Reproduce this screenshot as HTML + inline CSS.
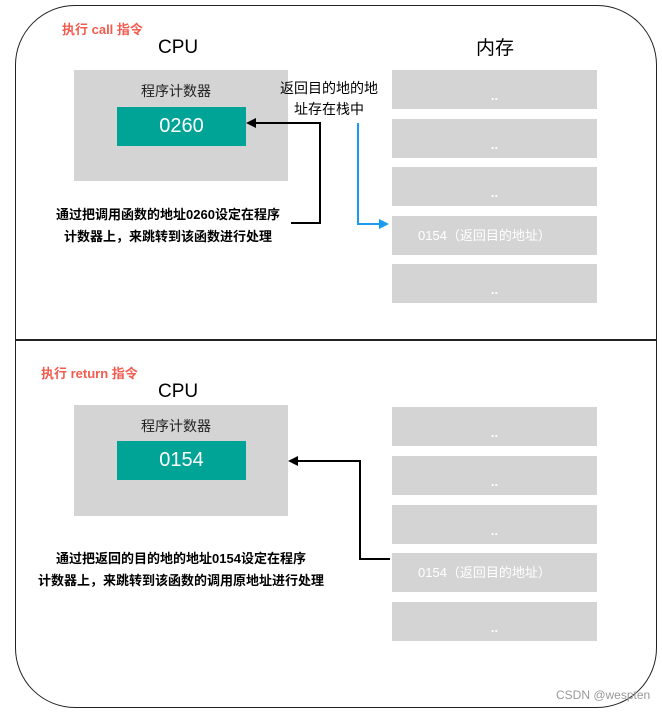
<!DOCTYPE html>
<html><head><meta charset="utf-8"><style>
body{margin:0;width:662px;height:712px;background:#fff;position:relative;overflow:hidden;font-family:"Liberation Sans","Noto Sans CJK SC",sans-serif}
.a{position:absolute}
.box{position:absolute;background:#d4d4d4}
.mem{position:absolute;left:392px;width:205px;height:39px;background:#d4d4d4;color:#fff;font-size:13px}
.dots{position:absolute;width:100%;text-align:center;bottom:6px;font-weight:bold;font-size:13px}
.teal{position:absolute;left:117px;width:129px;height:39px;background:#00a496;color:#fff;font-size:20px;text-align:center;line-height:39px}
.t{position:absolute;white-space:nowrap;color:#000}
</style></head><body>
<div class="a" style="left:15px;top:5px;width:640px;height:701px;border:1.5px solid #222;border-radius:60px"></div>
<div class="a" style="left:15px;top:339px;width:642px;height:1.5px;background:#222"></div>

<div class="t" style="left:62px;top:19px;color:#f25c4f;font-size:13px;font-weight:bold">执行 call 指令</div>
<div class="t" style="left:158px;top:37px;font-size:19px">CPU</div>
<div class="t" style="left:476px;top:33px;font-size:19px">内存</div>
<div class="box" style="left:74px;top:70px;width:214px;height:111px"></div>
<div class="t" style="left:141px;top:81px;font-size:14px;color:#222">程序计数器</div>
<div class="teal" style="top:107px">0260</div>
<div class="t" style="left:280px;top:78px;font-size:14px;line-height:21px;text-align:center">返回目的地的地<br>址存在栈中</div>
<div class="t" style="left:40px;top:204px;font-size:13px;font-weight:bold;line-height:22px;text-align:center;width:256px">通过把调用函数的地址0260设定在程序<br>计数器上，来跳转到该函数进行处理</div>
<div class="mem" style="top:70px"><div class="dots">..</div></div>
<div class="mem" style="top:119px"><div class="dots">..</div></div>
<div class="mem" style="top:167px"><div class="dots">..</div></div>
<div class="mem" style="top:216px;line-height:39px"><span style="margin-left:26px">0154（返回目的地址）</span></div>
<div class="mem" style="top:264px"><div class="dots">..</div></div>

<div class="t" style="left:41px;top:363px;color:#f25c4f;font-size:13px;font-weight:bold">执行 return 指令</div>
<div class="t" style="left:158px;top:381px;font-size:19px">CPU</div>
<div class="box" style="left:74px;top:405px;width:214px;height:111px"></div>
<div class="t" style="left:141px;top:416px;font-size:14px;color:#222">程序计数器</div>
<div class="teal" style="top:441px">0154</div>
<div class="t" style="left:18px;top:548px;font-size:13px;font-weight:bold;line-height:22px;text-align:center;width:326px">通过把返回的目的地的地址0154设定在程序<br>计数器上，来跳转到该函数的调用原地址进行处理</div>
<div class="mem" style="top:407px"><div class="dots">..</div></div>
<div class="mem" style="top:456px"><div class="dots">..</div></div>
<div class="mem" style="top:505px"><div class="dots">..</div></div>
<div class="mem" style="top:553px;line-height:39px"><span style="margin-left:26px">0154（返回目的地址）</span></div>
<div class="mem" style="top:602px"><div class="dots">..</div></div>

<div class="t" style="left:556px;top:688px;font-size:12px;color:#999">CSDN @wespten</div>

<svg class="a" style="left:0;top:0" width="662" height="712">
<polyline points="291,223 320,223 320,123 254,123" fill="none" stroke="#000" stroke-width="2"/>
<polygon points="246,123 256,118 256,128" fill="#000"/>
<polyline points="358,123 358,224 380,224" fill="none" stroke="#1a9bf0" stroke-width="2"/>
<polygon points="389,224 379,219 379,229" fill="#1a9bf0"/>
<polyline points="390,559 360,559 360,461 296,461" fill="none" stroke="#000" stroke-width="2"/>
<polygon points="288,461 298,456 298,466" fill="#000"/>
</svg>
</body></html>
